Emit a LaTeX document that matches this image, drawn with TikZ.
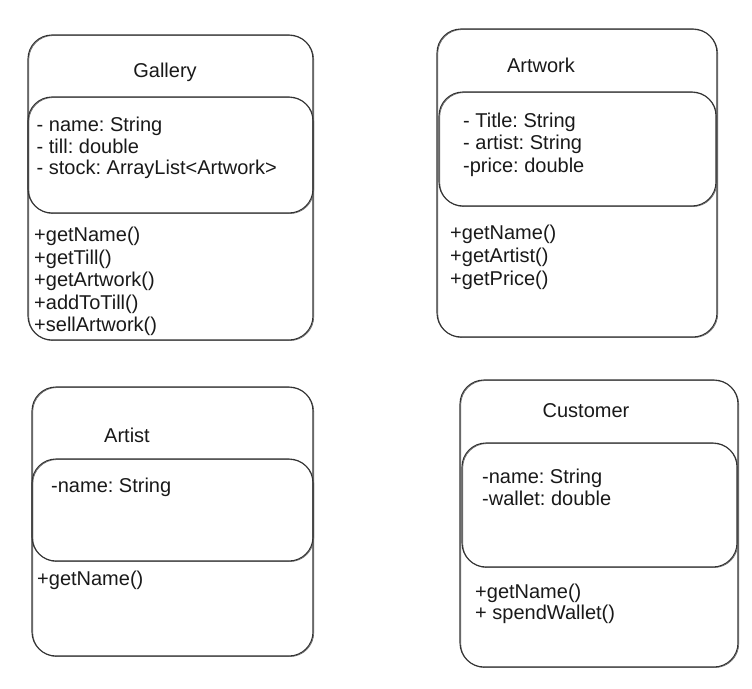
\documentclass[tikz,border=0pt]{standalone}
\usepackage{fontspec}
\setmainfont{Liberation Sans}
\frenchspacing
\begin{document}
\begin{tikzpicture}[x=1pt,y=-1pt,
  box/.style={rectangle, draw=black!80, line width=1.1pt, rounded corners=24pt,
    inner sep=0pt, outer sep=0pt,
    preaction={draw=black!60, line width=0.6pt, transform canvas={shift={(0.8pt,-0.6pt)}}}},
  txt/.style={anchor=base west, inner sep=0pt, font=\fontsize{20}{22}\selectfont, text=black!90},
  ttl/.style={anchor=base, inner sep=0pt, font=\fontsize{20}{22}\selectfont, text=black!90}]
\useasboundingbox (0,0) rectangle (752,688);

% Gallery
\node[box, minimum width=285pt, minimum height=305pt] (gallery) at (170.5,187.5) {};
\node[box, minimum width=285pt, minimum height=116pt] (galleryattr) at (170.5,155) {};
\node[ttl] (gt) at (165,77) {Gallery};
\node[txt] (ga1) at (36.5,131) {- name: String};
\node[txt] (ga2) at (36.5,153) {- till: double};
\node[txt] (ga3) at (36.5,174) {- stock: ArrayList<Artwork>};
\node[txt] (gm1) at (34,241) {+getName()};
\node[txt] (gm2) at (34,264) {+getTill()};
\node[txt] (gm3) at (34,286) {+getArtwork()};
\node[txt] (gm4) at (34,309) {+addToTill()};
\node[txt] (gm5) at (34,331) {+sellArtwork()};

% Artwork
\node[box, minimum width=280pt, minimum height=308pt] (artwork) at (577,183) {};
\node[box, minimum width=277pt, minimum height=114pt] (artworkattr) at (577.5,149) {};
\node[ttl] (at) at (541,72) {Artwork};
\node[txt] (aa1) at (463,127) {- Title: String};
\node[txt] (aa2) at (463,149) {- artist: String};
\node[txt] (aa3) at (463,172) {-price: double};
\node[txt] (am1) at (450,239) {+getName()};
\node[txt] (am2) at (450,262) {+getArtist()};
\node[txt] (am3) at (450,285) {+getPrice()};

% Artist
\node[box, minimum width=281pt, minimum height=269pt] (artist) at (172.5,521.5) {};
\node[box, minimum width=281pt, minimum height=102pt] (artistattr) at (172.5,510) {};
\node[ttl] (rt) at (127,442) {Artist};
\node[txt] (ra1) at (51,492) {-name: String};
\node[txt] (rm1) at (37,585) {+getName()};

% Customer
\node[box, minimum width=278pt, minimum height=287pt] (customer) at (599,523.5) {};
\node[box, minimum width=275pt, minimum height=124pt] (customerattr) at (599.5,505) {};
\node[ttl] (ct) at (586,417) {Customer};
\node[txt] (ca1) at (482,483) {-name: String};
\node[txt] (ca2) at (482,505) {-wallet: double};
\node[txt] (cm1) at (475,598) {+getName()};
\node[txt] (cm2) at (475,619) {+ spendWallet()};
\end{tikzpicture}
\end{document}
